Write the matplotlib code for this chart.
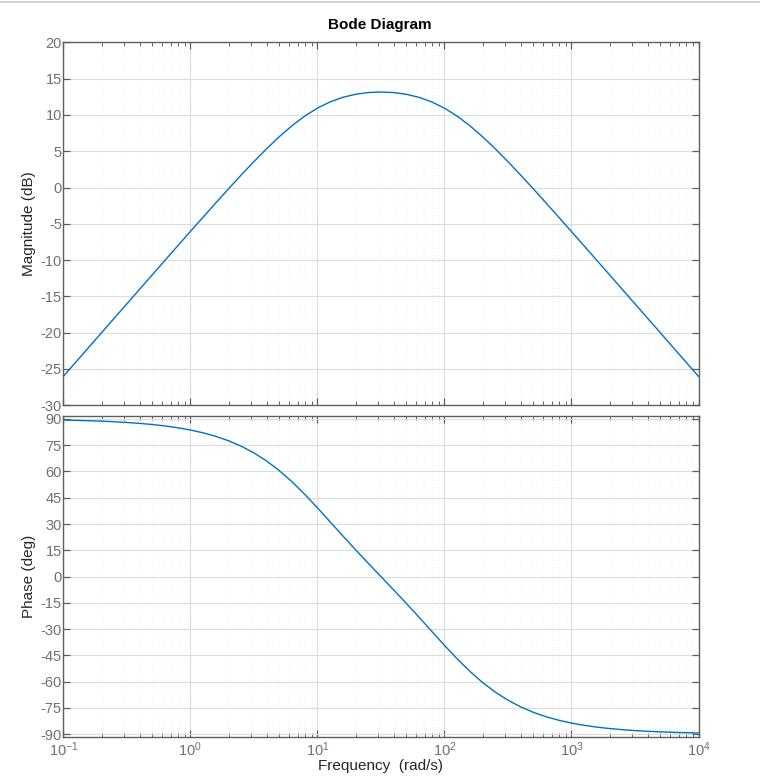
import matplotlib
matplotlib.use("Agg")
import matplotlib.pyplot as plt
from matplotlib.ticker import LogLocator, NullFormatter
from matplotlib.lines import Line2D

plt.rcParams['font.family'] = ['Liberation Sans', 'DejaVu Sans']
plt.rcParams['mathtext.fontset'] = 'custom'
plt.rcParams['mathtext.rm'] = 'Liberation Sans'
plt.rcParams['mathtext.it'] = 'Liberation Sans'
plt.rcParams['axes.unicode_minus'] = False

# frequency samples (rad/s)
freq = [0.1, 0.1259, 0.1585, 0.1995, 0.2512, 0.3162, 0.3981, 0.5012, 0.631, 0.7943,
        1.0, 1.259, 1.585, 1.995, 2.512, 3.162, 3.981, 5.012, 6.31, 7.943,
        10, 12.59, 15.85, 19.95, 25.12, 31.62, 39.81, 50.12, 63.1, 79.43,
        100, 125.9, 158.5, 199.5, 251.2, 316.2, 398.1, 501.2, 631, 794.3,
        1000, 1259, 1585, 1995, 2512, 3162, 3981, 5012, 6310, 7943, 10000]

magnitude_db = [-26.02, -24.02, -22.02, -20.02, -18.02, -16.03, -14.03, -12.03, -10.04, -8.05,
                -6.06, -4.09, -2.13, -0.19, 1.71, 3.56, 5.33, 7.00, 8.51, 9.83,
                10.93, 11.79, 12.42, 12.84, 13.08, 13.15, 13.08, 12.84, 12.42, 11.79,
                10.93, 9.83, 8.51, 7.00, 5.33, 3.56, 1.71, -0.19, -2.13, -4.09,
                -6.06, -8.05, -10.04, -12.03, -14.03, -16.03, -18.02, -20.02, -22.02, -24.02, -26.02]

phase_deg = [89.37, 89.21, 89.00, 88.74, 88.42, 88.01, 87.49, 86.84, 86.03, 85.00,
             83.72, 82.10, 80.09, 77.57, 74.46, 70.64, 66.02, 60.51, 54.14, 47.00,
             39.29, 31.28, 23.24, 15.34, 7.60, 0.00, -7.60, -15.34, -23.24, -31.28,
             -39.29, -47.00, -54.14, -60.51, -66.02, -70.64, -74.46, -77.57, -80.09, -82.10,
             -83.72, -85.00, -86.03, -86.84, -87.49, -88.01, -88.42, -88.74, -89.00, -89.21, -89.37]

mag_ticks = [-30, -25, -20, -15, -10, -5, 0, 5, 10, 15, 20]
phase_ticks = [-90, -75, -60, -45, -30, -15, 0, 15, 30, 45, 60, 75, 90]

title = "Bode Diagram"
xlabel = "Frequency  (rad/s)"
ylabel_mag = "Magnitude (dB)"
ylabel_phase = "Phase (deg)"

line_color = "#0072BD"
axis_color = "#5f5f5f"
label_color = "#707070"

W, H = 760, 781
fig = plt.figure(figsize=(W / 100, H / 100), dpi=100)

ax1 = fig.add_axes([63.3 / W, 1 - 405.3 / H, (698.5 - 63.3) / W, (405.3 - 42.3) / H])
ax2 = fig.add_axes([63.3 / W, 1 - 736.7 / H, (698.5 - 63.3) / W, (736.7 - 416.0) / H])

ax1.plot(freq, magnitude_db, color=line_color, lw=1.0)
ax2.plot(freq, phase_deg, color=line_color, lw=1.0)

for ax in (ax1, ax2):
    ax.set_xscale('log')
    ax.set_xlim(0.1, 10000)
    ax.xaxis.set_major_locator(LogLocator(base=10, numticks=10))
    ax.xaxis.set_minor_locator(LogLocator(base=10, subs=[2, 3, 4, 5, 6, 7, 8, 9], numticks=20))
    ax.xaxis.set_minor_formatter(NullFormatter())
    ax.grid(True, which='major', color='#dcdcdc', lw=0.8, ls='-')
    ax.grid(True, which='minor', axis='x', color='#ebebeb', lw=0.6, ls=(0, (1, 3)))
    ax.set_axisbelow(True)
    for s in ax.spines.values():
        s.set_color(axis_color)
        s.set_linewidth(1.0)
    ax.tick_params(which='both', direction='in', top=True, right=True,
                   color=axis_color, labelcolor=label_color, labelsize=10.5)
    ax.tick_params(which='major', length=5, width=0.9)
    ax.tick_params(which='minor', length=3, width=0.7)

ax1.set_ylim(-30, 20)
ax1.set_yticks(mag_ticks)
ax1.set_yticklabels([str(v) for v in mag_ticks])
ax1.tick_params(axis='x', labelbottom=False)
ax1.tick_params(axis='y', pad=1)

ax2.set_ylim(-91.5, 91.7)
ax2.set_yticks(phase_ticks)
ax2.set_yticklabels([str(v) for v in phase_ticks])
ax2.tick_params(axis='y', pad=1)
ax2.tick_params(axis='x', pad=3)

ax1.set_ylabel(ylabel_mag, fontsize=11, color='#262626', labelpad=3)
ax2.set_ylabel(ylabel_phase, fontsize=11, color='#262626', labelpad=3)
fig.text(380 / W, 1 - 766 / H, xlabel, ha='center', va='center', fontsize=11, color='#262626')
fig.text(380 / W, 1 - 25 / H, title, ha='center', va='center', fontsize=11, fontweight='bold', color='black')

# thin frame line at top of the image
fig.add_artist(Line2D([0, 1], [1 - 1.5 / H, 1 - 1.5 / H], transform=fig.transFigure,
                      color='#c8c8c8', lw=1.2))

fig.savefig("out.png", dpi=100)
